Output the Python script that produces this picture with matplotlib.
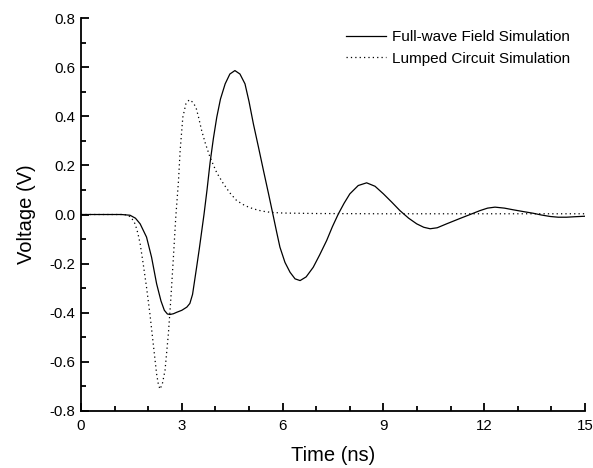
import matplotlib
matplotlib.use("Agg")
import matplotlib.pyplot as plt
from matplotlib.ticker import MultipleLocator

plt.rcParams['font.family'] = ['Liberation Sans', 'DejaVu Sans']

# full-wave field simulation
t_full = [0, 1.2, 1.46, 1.62, 1.76, 1.95, 2.10, 2.25, 2.38, 2.48, 2.57, 2.65, 2.75, 2.85,
          3.0, 3.15, 3.24, 3.32, 3.44, 3.52, 3.59, 3.66, 3.75, 3.84, 3.94, 4.04, 4.15, 4.29,
          4.43, 4.58, 4.73, 4.88, 5.0, 5.13, 5.28, 5.43, 5.58, 5.72, 5.82, 5.92,
          6.07, 6.22, 6.37, 6.52, 6.7, 6.91, 7.1, 7.31, 7.48, 7.66, 7.83, 8.0,
          8.25, 8.5, 8.75, 9.0, 9.25, 9.49, 9.75, 9.99, 10.2, 10.39, 10.6, 10.88,
          11.28, 11.58, 11.875, 12.1, 12.32, 12.6, 12.87, 13.16, 13.46, 13.7,
          13.96, 14.2, 14.45, 14.7, 15.0]
v_full = [0, 0, -0.003, -0.015, -0.038, -0.092, -0.174, -0.282, -0.352, -0.390,
          -0.405, -0.407, -0.404, -0.398, -0.390, -0.377, -0.362, -0.325, -0.215, -0.14,
          -0.07, 0.0, 0.1, 0.21, 0.31, 0.396, 0.47, 0.532, 0.572, 0.586, 0.572,
          0.532, 0.46, 0.369, 0.275, 0.179, 0.085, -0.005, -0.07, -0.133, -0.195,
          -0.235, -0.262, -0.269, -0.254, -0.215, -0.165, -0.106, -0.05, 0.003,
          0.046, 0.084, 0.118, 0.129, 0.115, 0.084, 0.05, 0.016, -0.015, -0.038,
          -0.052, -0.058, -0.054, -0.038, -0.016, 0.0, 0.016, 0.026, 0.030, 0.026,
          0.019, 0.012, 0.005, -0.002, -0.008, -0.011, -0.011, -0.009, -0.007]

# lumped circuit simulation
t_lump = [0, 1.3, 1.45, 1.53, 1.61, 1.69, 1.76, 1.85, 1.95, 2.05, 2.15, 2.25, 2.3,
          2.35, 2.42, 2.5, 2.6, 2.67, 2.75, 2.82, 2.87, 2.90, 2.95, 3.03, 3.12,
          3.22, 3.32, 3.42, 3.5, 3.59, 3.7, 3.84, 4.04, 4.24, 4.43, 4.63, 4.88,
          5.13, 5.38, 5.63, 6.0, 7.0, 9.0, 12.0, 15.0]
v_lump = [0, 0, -0.008, -0.02, -0.038, -0.075, -0.119, -0.2, -0.296, -0.404,
          -0.527, -0.649, -0.69, -0.711, -0.69, -0.635, -0.486, -0.35, -0.174,
          -0.011, 0.08, 0.135, 0.26, 0.396, 0.45, 0.467, 0.458, 0.437, 0.395,
          0.342, 0.29, 0.233, 0.17, 0.125, 0.088, 0.057, 0.036, 0.023, 0.014,
          0.009, 0.006, 0.004, 0.003, 0.003, 0.003]

fig = plt.figure(figsize=(5.93, 4.68), dpi=100)
ax = fig.add_axes([0.1366, 0.1218, 0.85, 0.8397])

ax.plot(t_full, v_full, color='black', lw=0.9, label='Full-wave Field Simulation')
ax.plot(t_lump, v_lump, color='black', lw=0.9, linestyle=(0, (1, 2.5)),
        label='Lumped Circuit Simulation')

ax.set_xlim(0, 15)
ax.set_ylim(-0.8, 0.8)
ax.xaxis.set_major_locator(MultipleLocator(3))
ax.xaxis.set_minor_locator(MultipleLocator(1))
ax.yaxis.set_major_locator(MultipleLocator(0.2))
ax.yaxis.set_minor_locator(MultipleLocator(0.1))
ax.yaxis.set_major_formatter(plt.FuncFormatter(lambda v, p: '%.1f' % v))

for s in ['top', 'right']:
    ax.spines[s].set_visible(False)
for s in ['left', 'bottom']:
    ax.spines[s].set_linewidth(1.3)

ax.tick_params(which='both', direction='in', width=1.3, labelsize=10.8)
ax.tick_params(which='major', length=6)
ax.tick_params(which='minor', length=3.5)
ax.tick_params(axis='x', pad=6)
ax.tick_params(axis='y', pad=4)

ax.set_xlabel('Time (ns)', fontsize=14.5, labelpad=9)
ax.set_ylabel('Voltage (V)', fontsize=14.5, labelpad=10)

ax.legend(loc='upper right', bbox_to_anchor=(570 / 593, 1 - 30 / 468),
          bbox_transform=fig.transFigure, frameon=False, fontsize=11,
          borderpad=0, borderaxespad=0,
          handlelength=2.6, handletextpad=0.4, labelspacing=0.5)

plt.savefig('out.png', dpi=100)
